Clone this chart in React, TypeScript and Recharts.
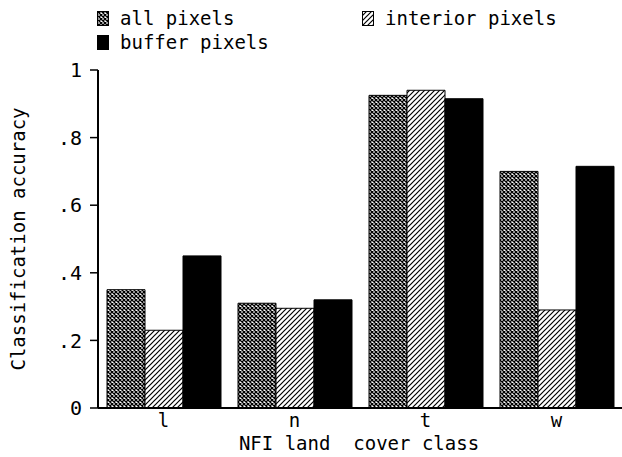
import React from "react";
import { BarChart, Bar, XAxis, YAxis, Label } from "recharts";

// NFI land cover classes and classification accuracy per pixel subset
const classes = ["l", "n", "t", "w"];
const allPixels = [0.35, 0.31, 0.925, 0.7];
const interiorPixels = [0.23, 0.295, 0.94, 0.29];
const bufferPixels = [0.45, 0.32, 0.915, 0.715];
const yTicks = [0, 0.2, 0.4, 0.6, 0.8, 1];

const data = classes.map((c, i) => ({
  cls: c,
  all: allPixels[i],
  interior: interiorPixels[i],
  buffer: bufferPixels[i],
}));

const FONT = "'DejaVu Sans Mono', monospace";
const INK = "#000";

const fmtTick = (v: number) => (v === 0 ? "0" : v === 1 ? "1" : String(v).replace(/^0/, ""));

// Hatch / cross-hatch fills used by the bars and the legend swatches
function Patterns() {
  return (
    <defs>
      <pattern id="cross" width="4" height="4" patternUnits="userSpaceOnUse">
        <rect width="4" height="4" fill="#fff" />
        <path d="M0,0 L4,4 M4,0 L0,4" stroke={INK} strokeWidth={1.3} />
      </pattern>
      <pattern id="hatch" width="5" height="5" patternUnits="userSpaceOnUse">
        <rect width="5" height="5" fill="#fff" />
        <path d="M0,5 L5,0 M-1,1 L1,-1 M4,6 L6,4" stroke={INK} strokeWidth={1.2} />
      </pattern>
    </defs>
  );
}

function Swatch({ fill }: { fill: string }) {
  return (
    <svg width={13} height={15} style={{ display: "block" }}>
      <rect x={0.5} y={0.5} width={11} height={14} fill={fill} stroke={INK} strokeWidth={1} />
    </svg>
  );
}

// Two-row key drawn above the plot area
function LegendBox() {
  const item = (fill: string, text: string, left: number, top: number) => (
    <div style={{ position: "absolute", left, top, display: "flex", alignItems: "center", gap: 10 }}>
      <Swatch fill={fill} />
      <span style={{ fontFamily: FONT, fontSize: 19, color: INK, lineHeight: "20px" }}>{text}</span>
    </div>
  );
  return (
    <div style={{ position: "absolute", left: 0, top: 0, width: 622, height: 60 }}>
      {item("url(#cross)", "all pixels", 97, 8)}
      {item("url(#hatch)", "interior pixels", 362, 8)}
      {item(INK, "buffer pixels", 97, 32)}
    </div>
  );
}

export default function App() {
  return (
    <div style={{ position: "absolute", left: 0, top: 0, width: 622, height: 457, background: "#fff" }}>
      <BarChart
        width={622}
        height={457}
        data={data}
        margin={{ top: 70, right: 0, bottom: 0, left: 0 }}
        barCategoryGap={9}
        barGap={0}
      >
        <Patterns />
        <XAxis
          dataKey="cls"
          tickLine={false}
          axisLine={{ stroke: INK, strokeWidth: 2 }}
          tick={{ fill: INK, fontFamily: FONT, fontSize: 19 }}
          tickMargin={0}
          height={49}
        >
          <Label
            content={() => (
              <text
                x={359}
                y={450}
                textAnchor="middle"
                fill={INK}
                fontFamily={FONT}
                fontSize={19}
                style={{ whiteSpace: "pre" }}
              >
                {"NFI land  cover class"}
              </text>
            )}
          />
        </XAxis>
        <YAxis
          width={98}
          domain={[0, 1]}
          ticks={yTicks}
          tickFormatter={fmtTick}
          tickSize={8}
          tickMargin={8}
          tickLine={{ stroke: INK, strokeWidth: 1.5 }}
          axisLine={{ stroke: INK, strokeWidth: 2 }}
          tick={{ fill: INK, fontFamily: FONT, fontSize: 20 }}
        >
          <Label
            value="Classification accuracy"
            angle={-90}
            position="insideLeft"
            offset={0}
            style={{ fill: INK, fontFamily: FONT, fontSize: 19, textAnchor: "middle" }}
            dx={18}
          />
        </YAxis>
        <Bar dataKey="all" fill="url(#cross)" stroke={INK} strokeWidth={1} isAnimationActive={false} />
        <Bar dataKey="interior" fill="url(#hatch)" stroke={INK} strokeWidth={1} isAnimationActive={false} />
        <Bar dataKey="buffer" fill={INK} stroke={INK} strokeWidth={1} isAnimationActive={false} />
      </BarChart>
      <LegendBox />
    </div>
  );
}
